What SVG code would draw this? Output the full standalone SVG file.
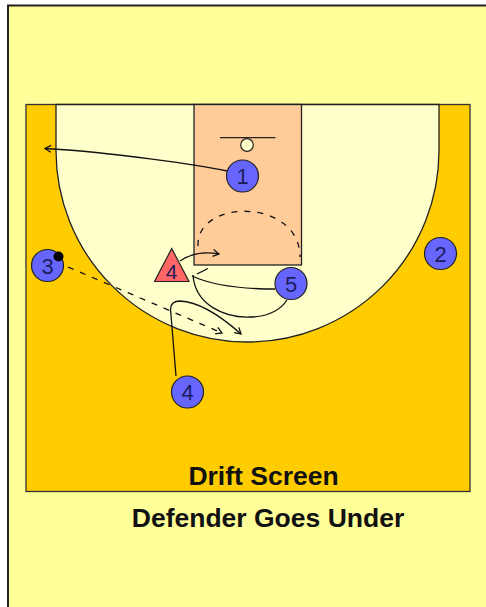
<svg xmlns="http://www.w3.org/2000/svg" width="486" height="607" viewBox="0 0 486 607">
<style>
.pl{fill:#6666FF;stroke:#222;stroke-width:1.2}
.num{font-family:"Liberation Sans",Arial,sans-serif;font-size:22px;fill:#1c1c5a;text-anchor:middle}
.ln{fill:none;stroke:#111;stroke-width:1.3}
.dash{stroke-dasharray:6,7}
.title{font-family:"Liberation Sans",Arial,sans-serif;font-weight:bold;font-size:26.5px;fill:#111;text-anchor:middle}
</style>
<defs>
<marker id="arr" markerWidth="10" markerHeight="10" refX="7" refY="4" orient="auto" markerUnits="userSpaceOnUse">
<path d="M1,0.5 L7,4 L1,7.5" fill="none" stroke="#111" stroke-width="1.3"/>
</marker>
</defs>
<rect x="0" y="0" width="486" height="607" fill="#FFFFFF"/>
<rect x="8" y="5.5" width="478" height="601.5" fill="#FFFF99"/>
<line x1="7" y1="5.5" x2="486" y2="5.5" stroke="#222" stroke-width="2"/>
<line x1="8" y1="5" x2="8" y2="607" stroke="#222" stroke-width="2"/>
<g id="court">
<rect x="26" y="104.5" width="444" height="387" fill="#FFCC00" stroke="#333" stroke-width="1.3"/>
<path d="M56,104.5 L56,150.5 A191.5,191.5 0 0 0 439,150.5 L439,104.5 Z" fill="#FFFFCC" stroke="#222" stroke-width="1.3"/>
<rect x="194" y="104.5" width="107.5" height="160.5" fill="#FFCC99" stroke="#222" stroke-width="1.3"/>
<line x1="220" y1="137.7" x2="275.5" y2="137.7" stroke="#222" stroke-width="1.3"/>
<circle cx="247" cy="145" r="6.3" fill="#FFFFCC" stroke="#222" stroke-width="1.2"/>
</g>
<g id="connectors">
<path class="ln" d="M227,171 C200,165 110,152 45,148.5" marker-end="url(#arr)"/>
<path class="ln dash" d="M68,267 L222,333" marker-end="url(#arr)"/>
<path class="ln" d="M176,376 L170.5,309 Q171,301 180,301 Q205,302 241,334" marker-end="url(#arr)"/>
<path class="ln" d="M180,261 Q196,250 219,254" marker-end="url(#arr)"/>
<path class="ln dash" d="M198,246 C196,198 300,198 300,257"/>
<path class="ln" d="M275,289 Q220,289 192,276"/>
<path class="ln" d="M193,275 C195,305 225,318 250,317 C270,317 282,308 287,300"/>
<line class="ln" x1="197" y1="274" x2="208" y2="268.5"/>
</g>
<g id="p1"><circle class="pl" cx="242.5" cy="176" r="16"/><text class="num" x="242.5" y="184">1</text></g>
<g id="p2"><circle class="pl" cx="440.5" cy="253.5" r="16"/><text class="num" x="440.5" y="261.5">2</text></g>
<g id="p3"><circle class="pl" cx="47.5" cy="265.5" r="16"/><text class="num" x="47.5" y="273.5">3</text><circle cx="58.5" cy="256.5" r="5" fill="#000"/></g>
<g id="p5"><circle class="pl" cx="291" cy="283.5" r="16"/><text class="num" x="291" y="291.5">5</text></g>
<g id="p4"><circle class="pl" cx="187.5" cy="392" r="16"/><text class="num" x="187.5" y="400">4</text></g>
<g id="x4"><polygon points="171.7,248.5 154.5,281.5 189,281.5" fill="#FF6666" stroke="#222" stroke-width="1.2"/><text class="num" x="171.5" y="278.5" style="font-size:21px">4</text></g>
<g id="labels">
<text class="title" x="263.5" y="485">Drift Screen</text>
<text class="title" x="268" y="527">Defender Goes Under</text>
</g>
</svg>
